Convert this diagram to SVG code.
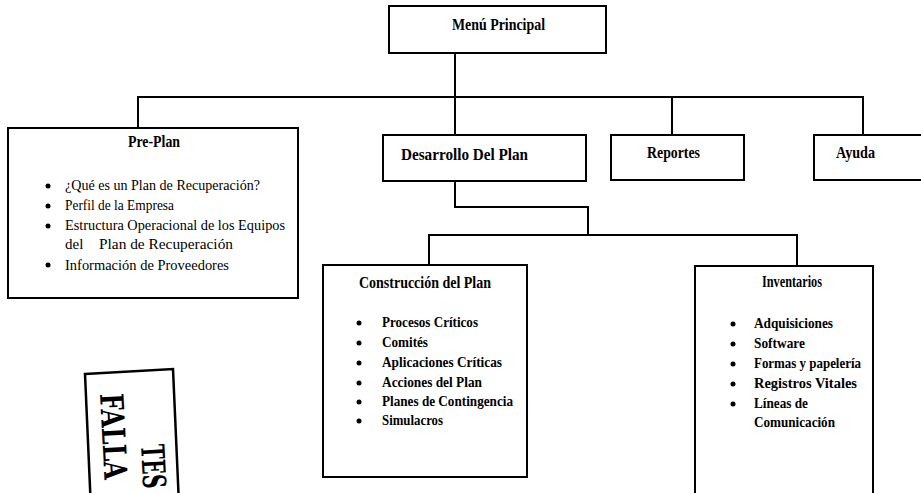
<svg xmlns="http://www.w3.org/2000/svg" width="921" height="493" viewBox="0 0 921 493">
<style>
.box{fill:#fff;stroke:#000;stroke-width:2}
.ln{fill:none;stroke:#000;stroke-width:2}
text{font-family:"Liberation Serif","Times New Roman",serif;fill:#000}
.t{font-weight:bold;font-size:16px}
.i{font-size:15px}
.b{font-weight:bold;font-size:14px}
.st{font-family:"DejaVu Serif","Liberation Serif",serif;font-weight:bold;font-size:32px}
</style>
<rect width="921" height="493" fill="#fff"/>
<g id="connectors">
<path class="ln" d="M455,53 V135"/>
<path class="ln" d="M138,128 V97 H863 V135"/>
<path class="ln" d="M672,97 V135"/>
<path class="ln" d="M455,181 V207 H588 V235"/>
<path class="ln" d="M429,265 V235 H797 V266"/>
</g>
<g id="menu">
<rect class="box" x="389" y="6" width="217" height="47"/>
<text class="t" x="452" y="30" textLength="93" lengthAdjust="spacingAndGlyphs">Menú Principal</text>
</g>
<g id="preplan">
<rect class="box" x="8" y="128" width="290" height="170"/>
<text class="t" x="128" y="147" textLength="52" lengthAdjust="spacingAndGlyphs">Pre-Plan</text>
<circle cx="48" cy="186" r="2.5"/><circle cx="48" cy="206" r="2.5"/><circle cx="48" cy="226" r="2.5"/><circle cx="48" cy="265" r="2.5"/>
<text class="i" x="65" y="190" textLength="195" lengthAdjust="spacingAndGlyphs">¿Qué es un Plan de Recuperación?</text>
<text class="i" x="65" y="210" textLength="109" lengthAdjust="spacingAndGlyphs">Perfil de la Empresa</text>
<text class="i" x="65" y="230" textLength="220" lengthAdjust="spacingAndGlyphs">Estructura Operacional de los Equipos</text>
<text class="i" x="65" y="249">del<tspan x="99" textLength="134" lengthAdjust="spacingAndGlyphs">Plan de Recuperación</tspan></text>
<text class="i" x="65" y="270" textLength="164" lengthAdjust="spacingAndGlyphs">Información de Proveedores</text>
</g>
<g id="desarrollo">
<rect class="box" x="383" y="135" width="203" height="46"/>
<text class="t" x="401" y="160" textLength="127" lengthAdjust="spacingAndGlyphs">Desarrollo Del Plan</text>
</g>
<g id="reportes">
<rect class="box" x="611" y="135" width="133" height="45"/>
<text class="t" x="647" y="158" textLength="53" lengthAdjust="spacingAndGlyphs">Reportes</text>
</g>
<g id="ayuda">
<rect class="box" x="814" y="135" width="130" height="45"/>
<text class="t" x="836" y="158" textLength="39" lengthAdjust="spacingAndGlyphs">Ayuda</text>
</g>
<g id="construccion">
<rect class="box" x="323" y="265" width="204" height="212"/>
<text class="t" x="359" y="288" textLength="132" lengthAdjust="spacingAndGlyphs">Construcción del Plan</text>
<circle cx="359" cy="323" r="2.5"/><circle cx="359" cy="343" r="2.5"/><circle cx="359" cy="363" r="2.5"/><circle cx="359" cy="383" r="2.5"/><circle cx="359" cy="402" r="2.5"/><circle cx="359" cy="421" r="2.5"/>
<text class="b" x="382" y="327" textLength="96" lengthAdjust="spacingAndGlyphs">Procesos Críticos</text>
<text class="b" x="382" y="347" textLength="46" lengthAdjust="spacingAndGlyphs">Comités</text>
<text class="b" x="382" y="367" textLength="120" lengthAdjust="spacingAndGlyphs">Aplicaciones Críticas</text>
<text class="b" x="382" y="387" textLength="100" lengthAdjust="spacingAndGlyphs">Acciones del Plan</text>
<text class="b" x="382" y="406" textLength="131" lengthAdjust="spacingAndGlyphs">Planes de Contingencia</text>
<text class="b" x="382" y="425" textLength="61" lengthAdjust="spacingAndGlyphs">Simulacros</text>
</g>
<g id="inventarios">
<rect class="box" x="695" y="266" width="178" height="240"/>
<text class="t" x="762" y="287" textLength="60" lengthAdjust="spacingAndGlyphs">Inventarios</text>
<circle cx="733" cy="324" r="2.5"/><circle cx="733" cy="344" r="2.5"/><circle cx="733" cy="364" r="2.5"/><circle cx="733" cy="384" r="2.5"/><circle cx="733" cy="404" r="2.5"/>
<text class="b" x="754" y="328" textLength="79" lengthAdjust="spacingAndGlyphs">Adquisiciones</text>
<text class="b" x="754" y="348" textLength="51" lengthAdjust="spacingAndGlyphs">Software</text>
<text class="b" x="754" y="368" textLength="107" lengthAdjust="spacingAndGlyphs">Formas y papelería</text>
<text class="b" x="754" y="388" textLength="103" lengthAdjust="spacingAndGlyphs">Registros Vitales</text>
<text class="b" x="754" y="408" textLength="54" lengthAdjust="spacingAndGlyphs">Líneas de</text>
<text class="b" x="754" y="427" textLength="81" lengthAdjust="spacingAndGlyphs">Comunicación</text>
</g>
<g id="stamp">
<polygon points="85,374 173,369 179,505 91,510" fill="none" stroke="#000" stroke-width="2.5"/>
<text class="st" transform="translate(100,394) rotate(87)" textLength="86" lengthAdjust="spacingAndGlyphs">FALLA</text>
<text class="st" transform="translate(141,445) rotate(87)" textLength="44" lengthAdjust="spacingAndGlyphs">TES</text>
</g>
</svg>
